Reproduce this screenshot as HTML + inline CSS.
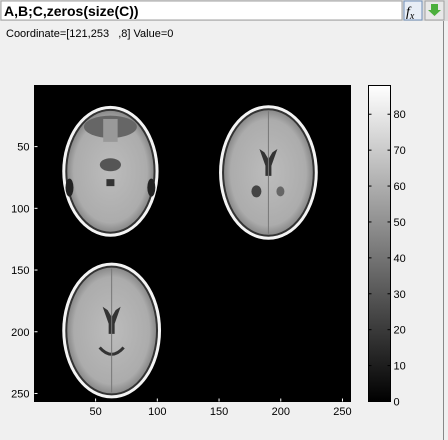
<!DOCTYPE html>
<html><head><meta charset="utf-8"><style>
body{margin:0;width:448px;height:440px;overflow:hidden;background:#f0f0f0;font-family:"Liberation Sans",sans-serif;}
svg{position:absolute;left:0;top:0}
</style></head><body>
<svg width="448" height="440">
<defs>
<linearGradient id="cb" x1="0" y1="1" x2="0" y2="0"><stop offset="0" stop-color="#000"/><stop offset="1" stop-color="#fff"/></linearGradient>
<radialGradient id="br" cx="0.5" cy="0.5" r="0.5"><stop offset="0" stop-color="#bcbcbc"/><stop offset="0.85" stop-color="#acacac"/><stop offset="1" stop-color="#8a8a8a"/></radialGradient>
</defs>
<rect x="0" y="0" width="448" height="440" fill="#f0f0f0"/>
<rect x="0" y="0" width="448" height="21" fill="#dcdcdc"/>
<rect x="1" y="1" width="401" height="19" fill="#fff" stroke="#a0a0a0"/>
<text x="4" y="16" font-size="14" font-weight="bold" fill="#000">A,B;C,zeros(size(C))</text>
<rect x="404" y="1" width="18" height="19" fill="#e8eef6" stroke="#6f8fb8"/>
<text x="406" y="16" font-size="14" font-style="italic" font-family="Liberation Serif,serif">f<tspan font-size="10" dy="3">x</tspan></text>
<rect x="425" y="1" width="19" height="19" fill="#e8e8e8" stroke="#a0a0a0"/>
<path d="M431 4h7v6h3l-6.5 6-6.5-6h3z" fill="#4caf3c"/>
<line x1="443.5" y1="21" x2="443.5" y2="440" stroke="#888" />
<text x="6" y="37" font-size="11" fill="#000" style="white-space:pre">Coordinate=[121,253   ,8] Value=0</text>
<g id="plot"></g>
</svg>
<script>
const xTicks=[50,100,150,200,250];
const yTicks=[50,100,150,200,250];
const cbTicks=[0,10,20,30,40,50,60,70,80];
const cbMax=88;
const imgSize=256;
// slices: [centerCol, centerRow, width, height]
const slices=[[62,70,78,106],[190,71,80,109],[63,199,80,110]];
const ax={x0:34.5,y0:85.5,w:316,h:316};
const sx=v=>ax.x0+(v-0.5)/imgSize*ax.w;
const sy=v=>ax.y0+(v-0.5)/imgSize*ax.h;
const cb={x:368.5,y0:85.5,h:316,w:22};
const cy=v=>cb.y0+cb.h-(v/cbMax)*cb.h;
const g=document.getElementById('plot');
const NS='http://www.w3.org/2000/svg';
function mk(t,a,p){const e=document.createElementNS(NS,t);for(const k in a)e.setAttribute(k,a[k]);(p||g).appendChild(e);return e;}
const bg=mk('rect',{x:ax.x0,y:ax.y0,width:ax.w,height:ax.h,fill:'#000',stroke:'#000'});


slices.forEach((s,i)=>{
  const cx=sx(s[0]),cyy=sy(s[1]),rx=s[2]/imgSize*ax.w/2,ry=s[3]/imgSize*ax.h/2;
  const sg=mk('g',{});
  
  
  mk('ellipse',{cx,cy:cyy,rx,ry,fill:'#f4f4f4'},sg);
  mk('ellipse',{cx,cy:cyy,rx:rx-3,ry:ry-3,fill:'#333'},sg);
  mk('ellipse',{cx,cy:cyy,rx:rx-5,ry:ry-5,fill:'url(#br)'},sg);
  if(i===0){
    mk('ellipse',{cx,cy:cyy-ry*0.68,rx:rx*0.55,ry:ry*0.17,fill:'#666'},sg);
    mk('rect',{x:cx-rx*0.15,y:cyy-ry*0.8,width:rx*0.3,height:ry*0.35,fill:'#999'},sg);
    mk('ellipse',{cx,cy:cyy-ry*0.1,rx:rx*0.22,ry:ry*0.1,fill:'#555'},sg);
    mk('ellipse',{cx:cx-rx*0.85,cy:cyy+ry*0.25,rx:4,ry:9,fill:'#222'},sg);
    mk('ellipse',{cx:cx+rx*0.85,cy:cyy+ry*0.25,rx:4,ry:9,fill:'#222'},sg);
    mk('rect',{x:cx-4,y:cyy+ry*0.12,width:8,height:7,fill:'#333'},sg);
  } else {
    mk('path',{d:`M${cx-9} ${cyy-ry*0.35} L${cx-3} ${cyy-ry*0.1} L${cx-3} ${cyy+ry*0.05} L${cx+3} ${cyy+ry*0.05} L${cx+3} ${cyy-ry*0.1} L${cx+9} ${cyy-ry*0.35} L${cx+4} ${cyy-ry*0.3} L${cx} ${cyy-ry*0.2} L${cx-4} ${cyy-ry*0.3}Z`,fill:'#333'},sg);
    if(i===1){
      mk('ellipse',{cx:cx-12,cy:cyy+ry*0.28,rx:5,ry:6,fill:'#444'},sg);
      mk('ellipse',{cx:cx+12,cy:cyy+ry*0.28,rx:4,ry:5,fill:'#666'},sg);
    } else {
      mk('path',{d:`M${cx-12} ${cyy+ry*0.25} Q${cx} ${cyy+ry*0.45} ${cx+12} ${cyy+ry*0.25}`,stroke:'#333','stroke-width':3,fill:'none'},sg);
    }
    mk('line',{x1:cx,y1:cyy-ry+6,x2:cx,y2:cyy+ry-6,stroke:'#777','stroke-width':1},sg);
  }
});
xTicks.forEach(v=>{
  const x=sx(v);
  mk('line',{x1:x,y1:ax.y0+ax.h,x2:x,y2:ax.y0+ax.h-3,stroke:'#fff'});
  const t=mk('text',{x:x,y:415,'font-size':11,'text-anchor':'middle',fill:'#000'});t.textContent=v;
  
  
});
yTicks.forEach(v=>{
  const y=sy(v);
  mk('line',{x1:ax.x0,y1:y,x2:ax.x0+3,y2:y,stroke:'#fff'});
  const t=mk('text',{x:ax.x0-5,y:y+4,'font-size':11,'text-anchor':'end',fill:'#000'});t.textContent=v;
  
  
});
const cbr=mk('rect',{x:cb.x,y:cb.y0,width:cb.w,height:cb.h,fill:'url(#cb)',stroke:'#000'});


cbTicks.forEach(v=>{
  const y=cy(v);
  mk('line',{x1:cb.x+cb.w,y1:y,x2:cb.x+cb.w-3,y2:y,stroke:'#000'});
  mk('line',{x1:cb.x,y1:y,x2:cb.x+3,y2:y,stroke:'#000'});
  const t=mk('text',{x:cb.x+cb.w+3,y:y+4,'font-size':11,fill:'#000'});t.textContent=v;
  
  
});
</script>
</body></html>
